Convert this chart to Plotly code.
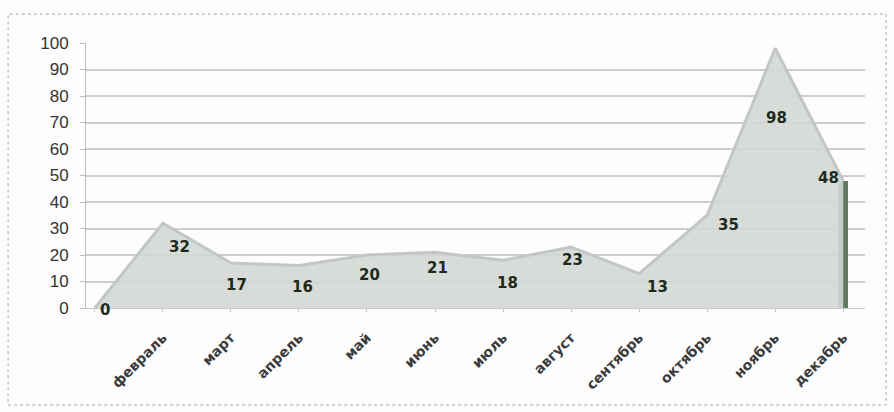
import plotly.graph_objects as go

months = ["", "февраль", "март", "апрель", "май", "июнь", "июль",
          "август", "сентябрь", "октябрь", "ноябрь", "декабрь"]
values = [0, 32, 17, 16, 20, 21, 18, 23, 13, 35, 98, 48]
y_ticks = list(range(0, 101, 10))

# label offsets (style only, pixels)
label_dx = [10, 17, 6, 4, 3, 2, 4, 1, 18, 21, 1, -15]
label_dy = [-2, -24, -22, -21, -20, -16, -23, -13, -13, -10, -70, 3]

xs = list(range(len(values)))

fig = go.Figure()
fig.add_trace(go.Scatter(
    x=xs, y=values, mode="lines", fill="tozeroy",
    line=dict(color="#c3c7c3", width=3),
    fillcolor="rgba(212,216,212,0.9)",
    hoverinfo="skip", showlegend=False,
))
# dark side face of the last point (3D effect)
fig.add_trace(go.Bar(
    x=[xs[-1]], y=[values[-1]], width=0.15,
    marker=dict(color="#5e7d60", line=dict(width=0)),
    hoverinfo="skip", showlegend=False,
))

for i, v in enumerate(values):
    fig.add_annotation(
        x=xs[i], y=v, text=str(v), showarrow=False,
        xshift=label_dx[i], yshift=label_dy[i],
        font=dict(family="DejaVu Sans", size=15, color="#1e2b1c",
                  weight="bold"),
    )

fig.add_shape(type="rect", xref="paper", yref="paper",
              x0=-0.1, x1=1.027, y0=-0.366, y1=1.109,
              line=dict(color="#a8a8a8", width=1, dash="dot"),
              fillcolor="rgba(0,0,0,0)", layer="below")

fig.update_layout(
    width=894, height=412,
    margin=dict(l=86, r=29, t=43, b=104),
    paper_bgcolor="#fdfdfd", plot_bgcolor="#fdfdfd",
    bargap=0,
    xaxis=dict(
        tickmode="array", tickvals=xs, ticktext=months,
        range=[-0.13, 11.32], tickangle=-45,
        showgrid=False, zeroline=False,
        showline=True, linecolor="#c8c8c8", linewidth=1,
        ticks="outside", ticklen=3, tickcolor="#c8c8c8",
        ticklabelstandoff=12,
        tickfont=dict(family="DejaVu Sans", size=14, color="#3c3c3c",
                      weight="bold"),
    ),
    yaxis=dict(
        range=[0, 100], tickmode="array", tickvals=y_ticks,
        showgrid=True, gridcolor="#cdcdcd", gridwidth=2,
        zeroline=False, showline=True, linecolor="#bdbdbd",
        linewidth=1, ticks="outside", ticklen=5, tickcolor="#bdbdbd",
        ticklabelstandoff=8,
        tickfont=dict(family="Liberation Sans", size=17, color="#333333"),
    ),
)

fig.write_html("out.html")
